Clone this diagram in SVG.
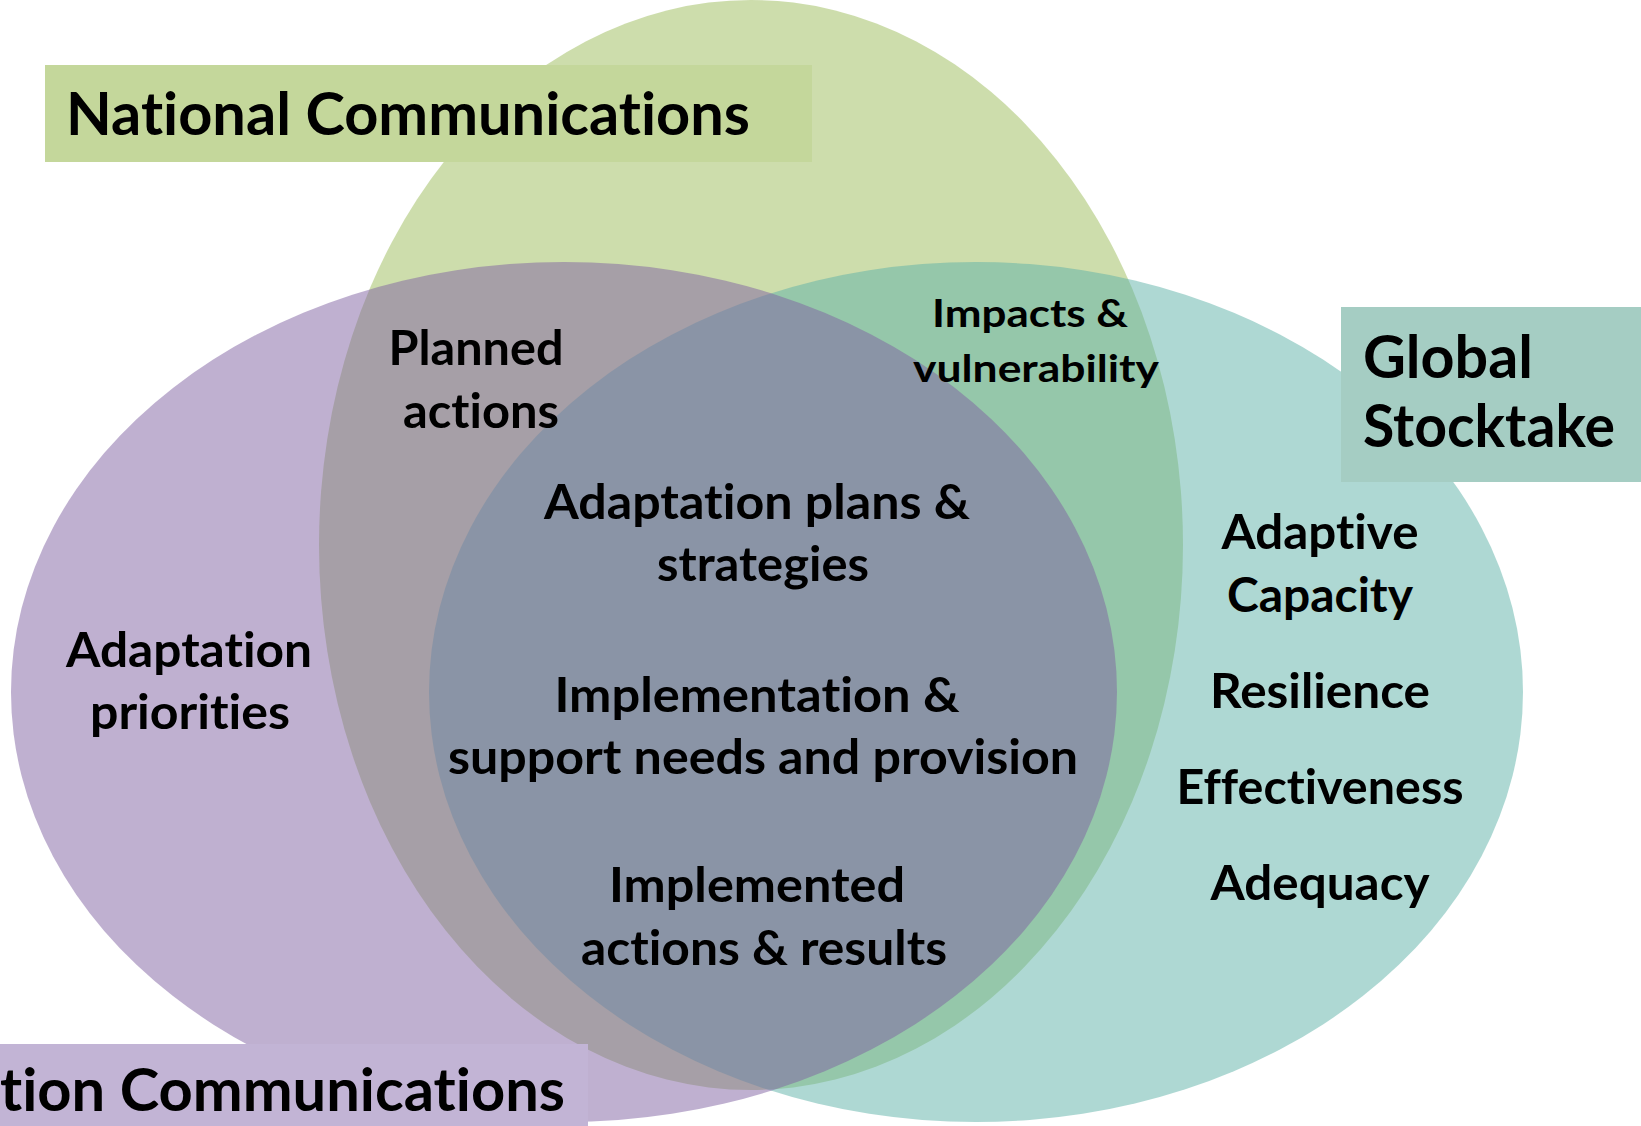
<svg xmlns="http://www.w3.org/2000/svg" width="1641" height="1126" viewBox="0 0 1641 1126">
<style>
.set{fill-opacity:0.5;stroke:none}
.t{font-family:Lato,"Open Sans","Liberation Sans",sans-serif;font-weight:700;fill:#000;text-anchor:middle;font-variant-ligatures:none;font-feature-settings:"liga" 0,"clig" 0}
.big{font-size:59px}
.mid{font-size:48px}
.sm{font-size:38px}
</style>
<rect width="1641" height="1126" fill="#fff"/>
<g id="sets">
  <ellipse id="set-national" class="set" cx="751" cy="545" rx="432" ry="545" fill="#9BBB59"/>
  <ellipse id="set-gst" class="set" cx="976" cy="692" rx="547" ry="430" fill="#5DB1A7"/>
  <ellipse id="set-adcom" class="set" cx="564" cy="692" rx="553" ry="430" fill="#7F61A1"/>
</g>
<g id="label-national">
  <rect x="45" y="65" width="767" height="97" fill="#C4D79B"/>
  <text class="t big" x="408" y="135" textLength="684" lengthAdjust="spacingAndGlyphs">National Communications</text>
</g>
<g id="label-gst">
  <rect x="1341" y="307" width="300" height="175" fill="#A5CDC3"/>
  <text class="t big" x="1363" y="378" style="text-anchor:start" textLength="170" lengthAdjust="spacingAndGlyphs">Global</text>
  <text class="t big" x="1363" y="447" style="text-anchor:start" textLength="252" lengthAdjust="spacingAndGlyphs">Stocktake</text>
</g>
<g id="label-adcom">
  <rect x="0" y="1044" width="588" height="82" fill="#C2B4D5"/>
  <text class="t big" x="0" y="1111" style="text-anchor:start" textLength="565" lengthAdjust="spacingAndGlyphs">tion Communications</text>
</g>
<g id="region-planned">
  <text class="t mid" x="476" y="365" textLength="175" lengthAdjust="spacingAndGlyphs">Planned</text>
  <text class="t mid" x="481" y="428" textLength="156" lengthAdjust="spacingAndGlyphs">actions</text>
</g>
<g id="region-impacts">
  <text class="t sm" x="1030" y="327" textLength="196" lengthAdjust="spacingAndGlyphs">Impacts &amp;</text>
  <text class="t sm" x="1036" y="382" textLength="246" lengthAdjust="spacingAndGlyphs">vulnerability</text>
</g>
<g id="region-center">
  <text class="t mid" x="757" y="519" textLength="426" lengthAdjust="spacingAndGlyphs">Adaptation plans &amp;</text>
  <text class="t mid" x="763" y="581" textLength="212" lengthAdjust="spacingAndGlyphs">strategies</text>
  <text class="t mid" x="757" y="712" textLength="405" lengthAdjust="spacingAndGlyphs">Implementation &amp;</text>
  <text class="t mid" x="763" y="774" textLength="630" lengthAdjust="spacingAndGlyphs">support needs and provision</text>
  <text class="t mid" x="757" y="902" textLength="296" lengthAdjust="spacingAndGlyphs">Implemented</text>
  <text class="t mid" x="764" y="965" textLength="366" lengthAdjust="spacingAndGlyphs">actions &amp; results</text>
</g>
<g id="region-priorities">
  <text class="t mid" x="189" y="667" textLength="246" lengthAdjust="spacingAndGlyphs">Adaptation</text>
  <text class="t mid" x="190" y="729" textLength="200" lengthAdjust="spacingAndGlyphs">priorities</text>
</g>
<g id="region-gst">
  <text class="t mid" x="1320" y="549" textLength="197" lengthAdjust="spacingAndGlyphs">Adaptive</text>
  <text class="t mid" x="1320" y="612" textLength="186" lengthAdjust="spacingAndGlyphs">Capacity</text>
  <text class="t mid" x="1320" y="708" textLength="220" lengthAdjust="spacingAndGlyphs">Resilience</text>
  <text class="t mid" x="1320" y="804" textLength="287" lengthAdjust="spacingAndGlyphs">Effectiveness</text>
  <text class="t mid" x="1320" y="900" textLength="219" lengthAdjust="spacingAndGlyphs">Adequacy</text>
</g>
<g id="connectors"/>
</svg>
